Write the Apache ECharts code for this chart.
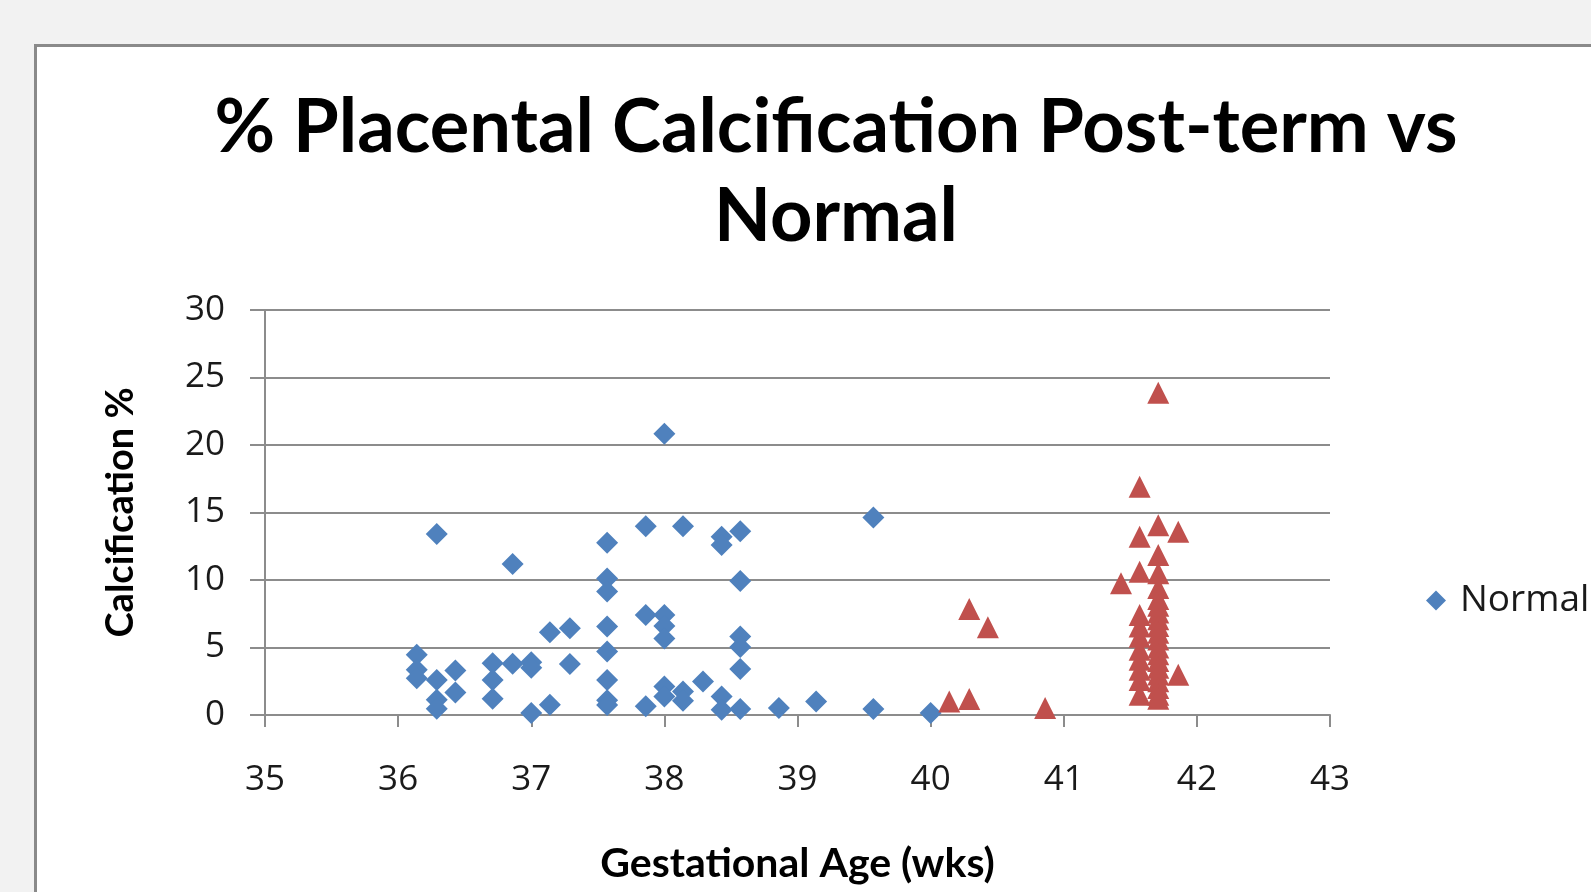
<!DOCTYPE html>
<html>
<head>
<meta charset="utf-8">
<title>% Placental Calcification Post-term vs Normal</title>
<script src="https://cdn.jsdelivr.net/npm/echarts@6/dist/echarts.min.js"></script>
<style>
  html, body { margin: 0; padding: 0; background: #f2f2f2; }
  #chart { width: 1591px; height: 892px; }
</style>
</head>
<body>
<div id="chart"></div>
<script>
// gestational age (weeks) / calcification %
const normalPoints = [
  [36.14, 4.46], [36.14, 3.35], [36.14, 2.73],
  [36.29, 13.4], [36.29, 2.6], [36.29, 1.13], [36.29, 0.47],
  [36.43, 3.3], [36.43, 1.67],
  [36.71, 3.84], [36.71, 2.6], [36.71, 1.2],
  [36.86, 11.18], [36.86, 3.79],
  [37.0, 3.9], [37.0, 3.5], [37.0, 0.15],
  [37.14, 6.13], [37.14, 0.76],
  [37.29, 6.43], [37.29, 3.77],
  [37.57, 12.76], [37.57, 10.12], [37.57, 9.14], [37.57, 6.55], [37.57, 4.7],
  [37.57, 2.6], [37.57, 1.1], [37.57, 0.75],
  [37.86, 13.99], [37.86, 7.41], [37.86, 0.64],
  [38.0, 20.84], [38.0, 7.41], [38.0, 6.6], [38.0, 5.66], [38.0, 2.11], [38.0, 1.37],
  [38.14, 13.99], [38.14, 1.74], [38.14, 1.06],
  [38.29, 2.48],
  [38.43, 13.2], [38.43, 12.59], [38.43, 1.37], [38.43, 0.39],
  [38.57, 13.62], [38.57, 9.93], [38.57, 5.81], [38.57, 5.03], [38.57, 3.4], [38.57, 0.44],
  [38.86, 0.52],
  [39.14, 1.0],
  [39.57, 14.63], [39.57, 0.44],
  [40.0, 0.15]
];

const postTermPoints = [
  [40.14, 1.0],
  [40.29, 7.86], [40.29, 1.18],
  [40.43, 6.5],
  [40.86, 0.52],
  [41.43, 9.76],
  [41.57, 16.9], [41.57, 13.2], [41.57, 10.61], [41.57, 7.4], [41.57, 6.55], [41.57, 5.8],
  [41.57, 4.83], [41.57, 4.09], [41.57, 3.35], [41.57, 2.6], [41.57, 1.5],
  [41.71, 23.87], [41.71, 14.06], [41.71, 11.85], [41.71, 10.5], [41.71, 9.4], [41.71, 8.6],
  [41.71, 8.1], [41.71, 7.6], [41.71, 7.1], [41.71, 6.6], [41.71, 6.1], [41.71, 5.6],
  [41.71, 5.0], [41.71, 4.5], [41.71, 4.0], [41.71, 3.5], [41.71, 3.0], [41.71, 2.5],
  [41.71, 2.0], [41.71, 1.5], [41.71, 1.2],
  [41.86, 13.57], [41.86, 2.98]
];

const seriesNames = ['Normal', 'Post-term'];
const xRange = [35, 43];
const yRange = [0, 30];

const chart = echarts.init(document.getElementById('chart'));
const lineCol = '#8c8c8c';

const option = {
  backgroundColor: 'transparent',
  animation: false,
  graphic: {
    elements: [{
      type: 'rect',
      z: -100,
      silent: true,
      shape: { x: 35.5, y: 45.5, width: 1700, height: 1000 },
      style: { fill: '#ffffff', stroke: '#8a8a8a', lineWidth: 3 }
    }]
  },
  title: {
    text: '% Placental Calcification Post-term vs\nNormal',
    left: 836,
    top: 84,
    padding: 0,
    textAlign: 'center',
    textStyle: {
      fontFamily: 'Lato',
      fontWeight: 'bold',
      fontSize: 74,
      lineHeight: 89,
      color: '#000'
    }
  },
  legend: {
    data: ['Normal'],
    orient: 'vertical',
    left: 1421,
    top: 577,
    icon: 'diamond',
    itemWidth: 20,
    itemHeight: 20,
    textStyle: {
      fontFamily: 'Open Sans',
      fontSize: 37,
      color: '#1a1a1a',
      padding: [0, 0, 0, 9]
    }
  },
  grid: {
    left: 265,
    right: 261,
    top: 310,
    bottom: 177
  },
  xAxis: {
    type: 'value',
    min: xRange[0],
    max: xRange[1],
    interval: 1,
    name: 'Gestational Age (wks)',
    nameLocation: 'middle',
    nameGap: 128,
    nameTextStyle: {
      fontFamily: 'Lato',
      fontWeight: 'bold',
      fontSize: 41,
      color: '#000'
    },
    axisLine: { show: true, lineStyle: { color: lineCol, width: 2 } },
    axisTick: { show: true, length: 12, lineStyle: { color: lineCol, width: 2 } },
    splitLine: { show: false },
    axisLabel: {
      margin: 48,
      fontFamily: 'Open Sans',
      fontSize: 35,
      color: '#1a1a1a'
    }
  },
  yAxis: {
    type: 'value',
    min: yRange[0],
    max: yRange[1],
    interval: 5,
    name: 'Calcification %',
    nameLocation: 'middle',
    nameGap: 125,
    nameRotate: 90,
    nameTextStyle: {
      fontFamily: 'Lato',
      fontWeight: 'bold',
      fontSize: 38,
      color: '#000'
    },
    axisLine: { show: true, lineStyle: { color: lineCol, width: 2 } },
    axisTick: { show: true, length: 15, lineStyle: { color: lineCol, width: 2 } },
    splitLine: { show: true, lineStyle: { color: lineCol, width: 2 } },
    axisLabel: {
      margin: 40,
      fontFamily: 'Open Sans',
      fontSize: 35,
      color: '#1a1a1a'
    }
  },
  series: [
    {
      name: seriesNames[0],
      type: 'scatter',
      symbol: 'diamond',
      symbolSize: 22,
      itemStyle: { color: '#4f81bd', opacity: 1 },
      data: normalPoints
    },
    {
      name: seriesNames[1],
      type: 'scatter',
      symbol: 'triangle',
      symbolSize: 22,
      itemStyle: { color: '#c0504d', opacity: 1 },
      data: postTermPoints
    }
  ]
};

chart.setOption(option);
</script>
</body>
</html>
